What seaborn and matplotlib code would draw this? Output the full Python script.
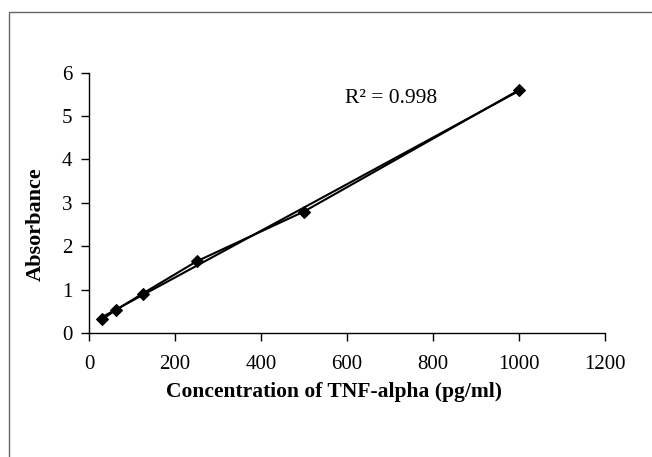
import numpy as np
import pandas as pd
import matplotlib
matplotlib.use('Agg')
import matplotlib.pyplot as plt
import seaborn as sns
from matplotlib.patches import Rectangle

# Standard curve data
concentration = [31.25, 62.5, 125, 250, 500, 1000]
absorbance = [0.32, 0.53, 0.91, 1.65, 2.80, 5.60]
r2_label = 'R² = 0.998'
x_ticks = [0, 200, 400, 600, 800, 1000, 1200]
y_ticks = [0, 1, 2, 3, 4, 5, 6]

df = pd.DataFrame({'conc': concentration, 'abs': absorbance})

sns.set_style('white')
plt.rcParams['font.family'] = ['Liberation Serif', 'DejaVu Serif']
plt.rcParams['text.color'] = 'black'
plt.rcParams['axes.labelcolor'] = 'black'
plt.rcParams['xtick.color'] = 'black'
plt.rcParams['ytick.color'] = 'black'

fig = plt.figure(figsize=(6.52, 4.57), dpi=100)
ax = fig.add_axes([89 / 652, 1 - 333 / 457, 516 / 652, 260.3 / 457])

# outer frame (cut off at right and bottom like the reference)
fig.patches.append(Rectangle((9 / 652, -0.1), 1.2, 1 - 12 / 457 + 0.1,
                             transform=fig.transFigure, fill=False,
                             edgecolor='#666666', linewidth=1))

# connected points
sns.lineplot(data=df, x='conc', y='abs', marker='D', markersize=6,
             color='black', linewidth=1.5, ax=ax, markeredgecolor='black')
# linear trendline
sns.regplot(data=df, x='conc', y='abs', ci=None, scatter=False, ax=ax,
            line_kws={'color': 'black', 'linewidth': 1.5})

ax.text(595, 5.41, r2_label, fontsize=15.5, va='center', ha='left')

ax.set_xlim(0, 1200)
ax.set_ylim(0, 6)
ax.set_xticks(x_ticks)
ax.set_yticks(y_ticks)
ax.tick_params(axis='both', direction='out', length=6, width=1,
               labelsize=15, pad=6, left=True, bottom=True)
ax.tick_params(axis='x', pad=10)
for side in ['top', 'right']:
    ax.spines[side].set_visible(False)
for side in ['left', 'bottom']:
    ax.spines[side].set_color('black')
    ax.spines[side].set_linewidth(1)

ax.set_xlabel('Concentration of TNF-alpha (pg/ml)', fontsize=15.5,
              fontweight='bold')
ax.set_ylabel('Absorbance', fontsize=16, fontweight='bold')
ax.xaxis.set_label_coords(0.474, -0.19)
ax.yaxis.set_label_coords(-0.083, 0.419)

fig.savefig('out.png', dpi=100)
